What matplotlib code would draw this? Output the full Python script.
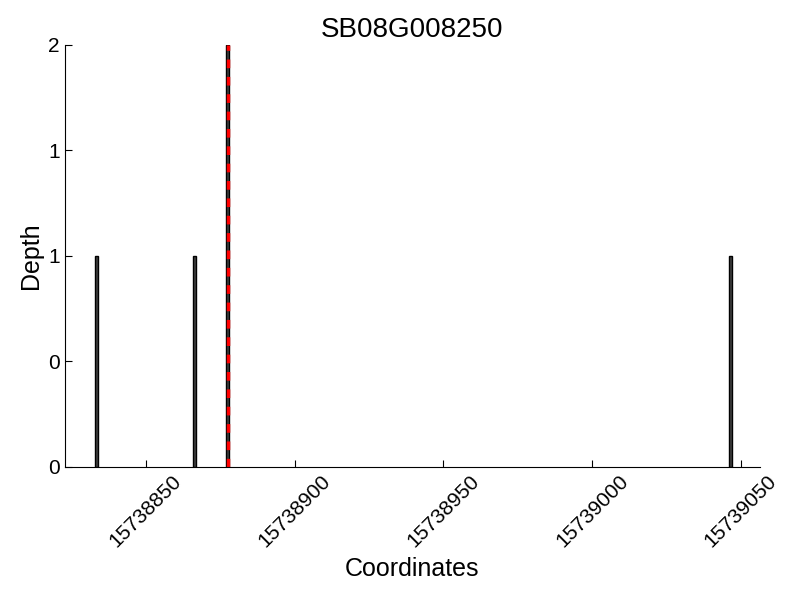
import matplotlib

matplotlib.use('Agg')
import matplotlib.pyplot as plt
from matplotlib.ticker import FormatStrFormatter

plt.rcParams['font.family'] = ['Liberation Sans', 'DejaVu Sans']

positions = [15738833, 15738866, 15738877, 15739046]
depths = [1, 1, 2, 1]
snp_pos = 15738877.5
gene = 'SB08G008250'
xticks = [15738850, 15738900, 15738950, 15739000, 15739050]
yticks = [0, 0.5, 1, 1.5, 2]

fig = plt.figure(figsize=(8, 6), dpi=100)
ax = fig.add_axes([0.081, 0.222, 0.869, 0.703])

ax.bar(positions, depths, width=0.9, align='edge', color='#404040',
       edgecolor='black', linewidth=1)
ax.axvline(snp_pos, color='red', linestyle='--', linewidth=2.5, dashes=(2.5, 2.5))

ax.set_xlim(15738822.8, 15739056.4)
ax.set_ylim(0, 2)
ax.set_xticks(xticks)
ax.set_xticklabels([str(t) for t in xticks], rotation=45, fontsize=15)
ax.set_yticks(yticks)
ax.yaxis.set_major_formatter(FormatStrFormatter('%d'))
ax.tick_params(axis='y', labelsize=15)
ax.tick_params(direction='in', length=5, width=0.8)

for side in ['top', 'right']:
    ax.spines[side].set_visible(False)

ax.set_title(gene, fontsize=20)
ax.set_xlabel('Coordinates', fontsize=18)
ax.set_ylabel('Depth', fontsize=18)

fig.savefig('out.png', format='png', dpi=100, facecolor='w')
plt.close(fig)
